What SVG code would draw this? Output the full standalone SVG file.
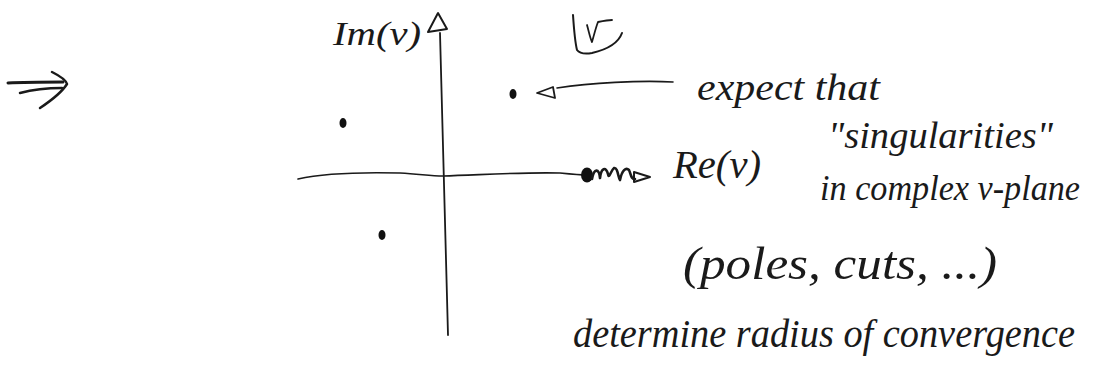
<svg xmlns="http://www.w3.org/2000/svg" width="1095" height="370" viewBox="0 0 1095 370">
<style>
.ink{fill:none;stroke:#1a1a1a;stroke-linecap:round;stroke-linejoin:round}
.t{font-family:"Liberation Serif","DejaVu Serif",serif;font-style:italic;fill:#1a1a1a}
.dot{fill:#111}
</style>
<rect width="1095" height="370" fill="#fff"/>
<g id="implies">
<path class="ink" stroke-width="3" d="M8,83 C25,82 45,82 63,82"/>
<path class="ink" stroke-width="2.5" d="M20,93 C35,89 50,88 62,88"/>
<path class="ink" stroke-width="2.5" d="M52,72 C60,76 66,80 67,84 C62,92 52,100 40,108"/>
</g>
<g id="axes">
<path class="ink" stroke-width="1.8" d="M440,33 C442,120 444,220 448,335"/>
<path class="ink" stroke-width="2" d="M438,13 L428,32 L447,29 Z"/>
<path class="ink" stroke-width="1.6" d="M298,179 C320,174 360,172 400,173 C420,174 430,176 443,176 C480,175 520,172 560,173 C570,174 580,175 587,175"/>
</g>
<g id="cut">
<ellipse class="dot" cx="587" cy="175" rx="6" ry="7.5"/>
<path class="ink" stroke-width="2.6" d="M592,179 C594,168 599,168 600,178 C601,168 606,166 608,174 C609,180 611,170 614,168 C618,167 618,178 620,180 C622,170 626,167 629,170 C631,174 631,180 635,179"/>
<path class="ink" stroke-width="2" d="M634,172 L650,177 L634,182 Z"/>
</g>
<g id="poles">
<ellipse class="dot" cx="513" cy="94" rx="3.5" ry="5"/>
<ellipse class="dot" cx="343" cy="123" rx="3.5" ry="5"/>
<ellipse class="dot" cx="382" cy="235" rx="3.5" ry="5"/>
</g>
<g id="connectors">
<path class="ink" stroke-width="1.6" d="M673,82 C640,80 590,83 557,88"/>
<path class="ink" stroke-width="1.8" d="M537,93 L553,87 L555,98 Z"/>
</g>
<g id="vlabel">
<path class="ink" stroke-width="2" d="M573,15 C574,30 575,42 577,50 C580,54 586,54 592,53 C605,50 618,44 622,33"/>
<path class="ink" stroke-width="1.8" d="M587,25 C589,32 590,38 592,42 C594,35 596,27 598,22 C603,21 608,20 612,20"/>
</g>
<g id="labels">
<text class="t" x="333" y="45" font-size="34" textLength="88" lengthAdjust="spacingAndGlyphs">Im(v)</text>
<text class="t" x="673" y="178" font-size="40" textLength="88" lengthAdjust="spacingAndGlyphs">Re(v)</text>
<text class="t" x="697" y="100" font-size="38" textLength="183" lengthAdjust="spacingAndGlyphs">expect that</text>
<text class="t" x="828" y="148" font-size="38" textLength="225" lengthAdjust="spacingAndGlyphs">"singularities"</text>
<text class="t" x="820" y="200" font-size="36" textLength="260" lengthAdjust="spacingAndGlyphs">in complex v-plane</text>
<text class="t" x="683" y="279" font-size="46" textLength="314" lengthAdjust="spacingAndGlyphs">(poles, cuts, ...)</text>
<text class="t" x="573" y="347" font-size="40" textLength="502" lengthAdjust="spacingAndGlyphs">determine radius of convergence</text>
</g>
</svg>
